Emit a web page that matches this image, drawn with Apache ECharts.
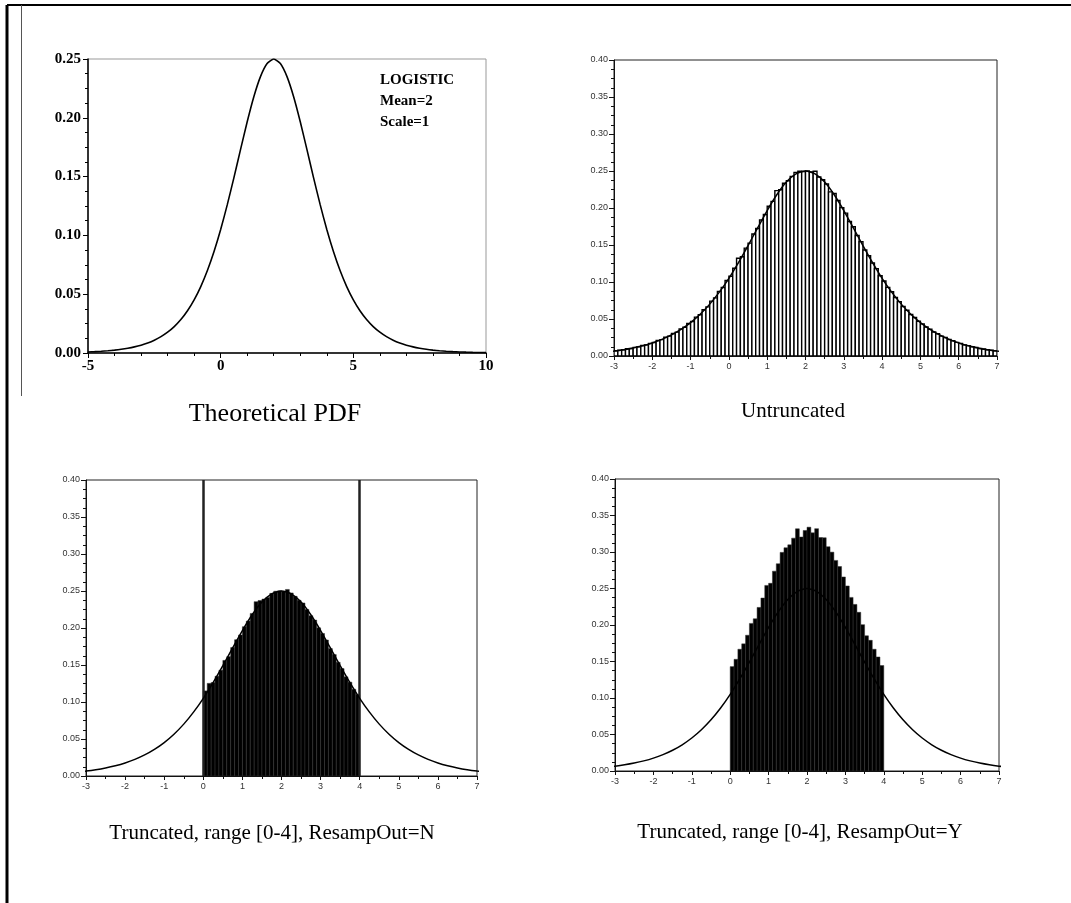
<!DOCTYPE html>
<html>
<head>
<meta charset="utf-8">
<script src="https://cdn.jsdelivr.net/npm/echarts@6/dist/echarts.min.js"></script>
<style>html,body{margin:0;padding:0;background:#fff;}#c{width:1071px;height:903px;}</style>
</head>
<body>
<div id="c"></div>
<script>
// Theoretical logistic PDF (mean 2, scale 1)
var pdfX = [-5,-4.75,-4.5,-4.25,-4,-3.75,-3.5,-3.25,-3,-2.75,-2.5,-2.25,-2,-1.75,-1.5,-1.25,-1,-0.75,-0.5,-0.25,
  0,0.25,0.5,0.75,1,1.25,1.5,1.75,2,2.25,2.5,2.75,3,3.25,3.5,3.75,4,4.25,4.5,4.75,
  5,5.25,5.5,5.75,6,6.25,6.5,6.75,7,7.25,7.5,7.75,8,8.25,8.5,8.75,9,9.25,9.5,9.75,10];
var pdfY = [0.00091,0.00117,0.00150,0.00193,0.00247,0.00316,0.00405,0.00519,0.00665,0.00850,0.01087,0.01387,0.01766,0.02245,0.02845,0.03593,0.04518,0.05648,0.07010,0.08626,
  0.10499,0.12613,0.14915,0.17311,0.19661,0.21790,0.23500,0.24613,0.25000,0.24613,0.23500,0.21790,0.19661,0.17311,0.14915,0.12613,0.10499,0.08626,0.07010,0.05648,
  0.04518,0.03593,0.02845,0.02245,0.01766,0.01387,0.01087,0.00850,0.00665,0.00519,0.00405,0.00316,0.00247,0.00193,0.00150,0.00117,0.00091,0.00071,0.00055,0.00043,0.00034];

// Untruncated histogram: bins of 0.1 from -3 to 7
var untruncStart = -3, untruncBin = 0.1;
var untruncHeights = [0.0070,0.0079,0.0084,0.0097,0.0102,0.0117,0.0124,0.0142,0.0150,0.0171,
  0.0182,0.0209,0.0221,0.0253,0.0268,0.0305,0.0322,0.0366,0.0388,0.0439,
  0.0466,0.0525,0.0558,0.0626,0.0664,0.0742,0.0786,0.0873,0.0925,0.1021,
  0.1078,0.1185,0.1320,0.1342,0.1458,0.1525,0.1648,0.1722,0.1838,0.1912,
  0.2024,0.2089,0.2235,0.2246,0.2334,0.2368,0.2428,0.2482,0.2497,0.2494,
  0.2502,0.2488,0.2497,0.2418,0.2381,0.2325,0.2218,0.2196,0.2102,0.2005,
  0.1931,0.1818,0.1746,0.1628,0.1545,0.1432,0.1356,0.1257,0.1181,0.1085,
  0.1013,0.0928,0.0869,0.0791,0.0735,0.0668,0.0619,0.0561,0.0521,0.0469,
  0.0434,0.0391,0.0362,0.0325,0.0301,0.0269,0.0249,0.0222,0.0206,0.0184,
  0.0170,0.0151,0.0140,0.0125,0.0115,0.0102,0.0095,0.0084,0.0078,0.0069];

// Truncated histograms: bins of 0.1 from 0 to 4
var truncStart = 0, truncBin = 0.1;
var truncNHeights = [0.1150,0.1252,0.1263,0.1348,0.1430,0.1562,0.1614,0.1735,0.1842,0.1906,
  0.2018,0.2094,0.2197,0.2356,0.2372,0.2391,0.2412,0.2468,0.2497,0.2502,
  0.2495,0.2521,0.2474,0.2428,0.2375,0.2338,0.2251,0.2166,0.2107,0.2002,
  0.1926,0.1838,0.1722,0.1641,0.1536,0.1452,0.1340,0.1268,0.1172,0.1101];
var truncYHeights = [0.1430,0.1530,0.1668,0.1742,0.1860,0.2022,0.2085,0.2241,0.2369,0.2542,
  0.2571,0.2738,0.2839,0.2995,0.3058,0.3098,0.3190,0.3318,0.3205,0.3295,
  0.3340,0.3262,0.3320,0.3198,0.3195,0.3072,0.2998,0.2885,0.2801,0.2658,
  0.2535,0.2378,0.2282,0.2174,0.2005,0.1852,0.1790,0.1668,0.1562,0.1445];
var truncBounds = [0, 4];

var xTicksPdf = [-5, 0, 5, 10];
var yTicksPdf = [0, 0.05, 0.10, 0.15, 0.20, 0.25];
var annotation = ['LOGISTIC', 'Mean=2', 'Scale=1'];
var titles = ['Theoretical PDF', 'Untruncated', 'Truncated, range [0-4], ResampOut=N', 'Truncated, range [0-4], ResampOut=Y'];

function curveData() { return pdfX.map(function (x, i) { return [x, pdfY[i]]; }); }
function histData(start, bin, heights) {
  return heights.map(function (h, i) { return [start + i * bin, start + (i + 1) * bin, h]; });
}
function histRender(fill, stroke, lw) {
  return function (params, api) {
    var p0 = api.coord([api.value(0), api.value(2)]);
    var p1 = api.coord([api.value(1), 0]);
    return { type: 'rect', shape: { x: p0[0], y: p0[1], width: p1[0] - p0[0], height: p1[1] - p0[1] },
      style: { fill: fill, stroke: stroke, lineWidth: lw } };
  };
}

var serifLbl = { fontFamily: 'Liberation Serif', fontWeight: 'bold', fontSize: 15, color: '#000' };
var sansLbl = { fontFamily: 'Liberation Sans', fontSize: 9, color: '#333' };

function sansX(idx) {
  return { type: 'value', gridIndex: idx, min: -3, max: 7, interval: 1,
    axisLine: { onZero: false, lineStyle: { color: '#111', width: 1 } },
    axisTick: { show: true, length: 4, lineStyle: { color: '#111' } },
    minorTick: { show: true, splitNumber: 2, length: 3, lineStyle: { color: '#111' } },
    splitLine: { show: false },
    axisLabel: Object.assign({ margin: 6 }, sansLbl) };
}
function sansY(idx) {
  return { type: 'value', gridIndex: idx, min: 0, max: 0.4, interval: 0.05,
    axisLine: { show: true, onZero: false, lineStyle: { color: '#111', width: 1 } },
    axisTick: { show: true, length: 5, lineStyle: { color: '#111' } },
    minorTick: { show: true, splitNumber: 4, length: 3, lineStyle: { color: '#111' } },
    splitLine: { show: false },
    axisLabel: Object.assign({ margin: 6, formatter: function (v) { return v.toFixed(2); } }, sansLbl) };
}
function curveSeries(idx, w) {
  return { type: 'line', xAxisIndex: idx, yAxisIndex: idx, data: curveData(), showSymbol: false,
    smooth: 0.2, clip: true, lineStyle: { color: '#000', width: w }, z: 5, silent: true };
}

var graphics = [
  { type: 'line', shape: { x1: 7, y1: 5, x2: 1071, y2: 5 }, style: { stroke: '#000', lineWidth: 2 } },
  { type: 'line', shape: { x1: 7, y1: 5, x2: 7, y2: 903 }, style: { stroke: '#000', lineWidth: 3 } },
  { type: 'line', shape: { x1: 21.5, y1: 5, x2: 21.5, y2: 396 }, style: { stroke: '#555', lineWidth: 1 } },
  { type: 'text', x: 275, y: 414, style: { text: titles[0], font: '26px "Liberation Serif"', fill: '#000', textAlign: 'center', textVerticalAlign: 'middle' } },
  { type: 'text', x: 793, y: 411, style: { text: titles[1], font: '21px "Liberation Serif"', fill: '#000', textAlign: 'center', textVerticalAlign: 'middle' } },
  { type: 'text', x: 272, y: 833, style: { text: titles[2], font: '21px "Liberation Serif"', fill: '#000', textAlign: 'center', textVerticalAlign: 'middle' } },
  { type: 'text', x: 800, y: 832, style: { text: titles[3], font: '21px "Liberation Serif"', fill: '#000', textAlign: 'center', textVerticalAlign: 'middle' } }
];
annotation.forEach(function (t, i) {
  graphics.push({ type: 'text', x: 380, y: 80 + i * 21, style: { text: t, font: 'bold 15px "Liberation Serif"', fill: '#000', textAlign: 'left', textVerticalAlign: 'middle' } });
});

var option = {
  animation: false,
  backgroundColor: '#fff',
  grid: [
    { left: 88, top: 59, width: 398, height: 294, show: true, borderColor: '#999', borderWidth: 1 },
    { left: 614, top: 60, width: 383, height: 296, show: true, borderColor: '#222', borderWidth: 1 },
    { left: 86, top: 480, width: 391, height: 296, show: true, borderColor: '#222', borderWidth: 1 },
    { left: 615, top: 479, width: 384, height: 292, show: true, borderColor: '#222', borderWidth: 1 }
  ],
  xAxis: [
    { type: 'value', gridIndex: 0, min: xTicksPdf[0], max: xTicksPdf[xTicksPdf.length - 1], interval: 5,
      axisLine: { onZero: false, lineStyle: { color: '#000', width: 1.5 } },
      axisTick: { show: true, length: 5, lineStyle: { color: '#000' } },
      minorTick: { show: true, splitNumber: 5, length: 3, lineStyle: { color: '#000' } },
      splitLine: { show: false },
      axisLabel: Object.assign({ margin: 6 }, serifLbl) },
    sansX(1), sansX(2), sansX(3)
  ],
  yAxis: [
    { type: 'value', gridIndex: 0, min: yTicksPdf[0], max: yTicksPdf[yTicksPdf.length - 1], interval: 0.05,
      axisLine: { show: true, onZero: false, lineStyle: { color: '#000', width: 1.5 } },
      axisTick: { show: true, length: 5, lineStyle: { color: '#000' } },
      minorTick: { show: true, splitNumber: 4, length: 3, lineStyle: { color: '#000' } },
      splitLine: { show: false },
      axisLabel: Object.assign({ margin: 7, formatter: function (v) { return v.toFixed(2); } }, serifLbl) },
    sansY(1), sansY(2), sansY(3)
  ],
  series: [
    curveSeries(0, 1.6),
    { type: 'custom', xAxisIndex: 1, yAxisIndex: 1, data: histData(untruncStart, untruncBin, untruncHeights),
      renderItem: histRender('#fff', '#000', 1.4), encode: { x: [0, 1], y: 2 }, clip: true, silent: true },
    curveSeries(1, 1.5),
    { type: 'custom', xAxisIndex: 2, yAxisIndex: 2, data: histData(truncStart, truncBin, truncNHeights),
      renderItem: histRender('#000', '#333', 0.5), encode: { x: [0, 1], y: 2 }, clip: true, silent: true },
    Object.assign(curveSeries(2, 1.5), {
      markLine: { silent: true, symbol: 'none', label: { show: false },
        lineStyle: { color: '#222', width: 2.5, type: 'solid' },
        data: truncBounds.map(function (b) { return { xAxis: b }; }) } }),
    { type: 'custom', xAxisIndex: 3, yAxisIndex: 3, data: histData(truncStart, truncBin, truncYHeights),
      renderItem: histRender('#000', '#333', 0.5), encode: { x: [0, 1], y: 2 }, clip: true, silent: true },
    curveSeries(3, 1.5)
  ],
  graphic: graphics
};

var chart = echarts.init(document.getElementById('c'), null, { renderer: 'canvas' });
chart.setOption(option);
</script>
</body>
</html>
